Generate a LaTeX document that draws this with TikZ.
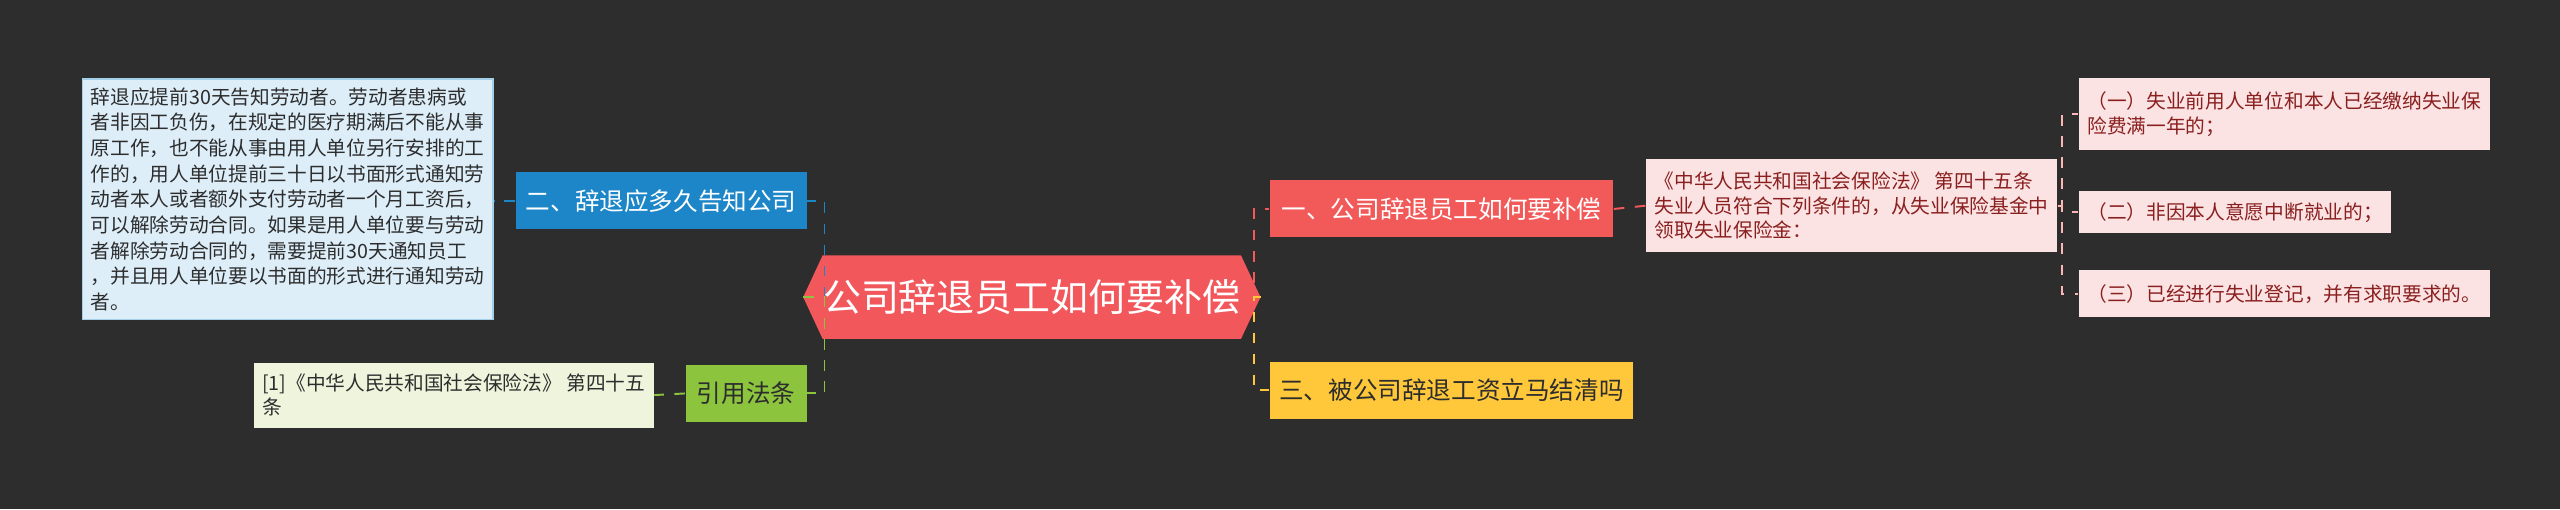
\documentclass[tikz,border=0pt]{standalone}
\usepackage{fontspec}
\setmainfont{Noto Sans CJK SC}
\usetikzlibrary{shapes.symbols}
\definecolor{bgc}{HTML}{2D2D2D}
\definecolor{rootc}{HTML}{F2575B}
\definecolor{redc}{HTML}{F25A5A}
\definecolor{bluec}{HTML}{1C86C8}
\definecolor{greenc}{HTML}{8CC43E}
\definecolor{yellowc}{HTML}{FFC83A}
\definecolor{pinkc}{HTML}{FCE3E3}
\definecolor{lbluec}{HTML}{DDEEF9}
\definecolor{lgreenc}{HTML}{EFF5DD}
\definecolor{darkred}{HTML}{8A1F1F}
\tikzset{
  topic/.style={inner sep=0pt, minimum height=0.57cm, font=\fontsize{7}{8}\selectfont},
  leaf/.style={inner sep=2.4pt, align=left, anchor=west, font=\fontsize{5.6}{7}\selectfont},
  link/.style={dashed, line width=0.55pt}
}
\begin{document}
\begin{tikzpicture}[x=0.01633cm, y=-0.01633cm]
\fill[bgc] (0,0) rectangle (1568,312);
% 中心主题
\node[signal, signal to=east and west, signal pointer angle=130, fill=rootc, draw=rootc,
  text=white, minimum width=4cm, minimum height=0.82cm, inner sep=0pt,
  font=\fontsize{10.8}{12}\selectfont] (root) at (632,182) {公司辞退员工如何要补偿};
% 分支
\node[topic, fill=redc, text=white, minimum width=3.43cm] (b1) at (883,128) {一、公司辞退员工如何要补偿};
\node[topic, fill=yellowc, text=bgc, minimum width=3.63cm] (b3) at (889,239) {三、被公司辞退工资立马结清吗};
\node[topic, fill=bluec, text=white, minimum width=2.91cm] (b2) at (405,123) {二、辞退应多久告知公司};
\node[topic, fill=greenc, text=bgc, minimum width=1.21cm] (b4) at (457,241) {引用法条};
% 叶子
\node[leaf, fill=lbluec, draw=bluec!40, text=bgc, minimum width=4cm, minimum height=2.4cm,
  font=\fontsize{5.6}{7.3}\selectfont] (l1) at (50,122)
  {辞退应提前30天告知劳动者。劳动者患病或\\者非因工负伤，在规定的医疗期满后不能从事\\原工作，也不能从事由用人单位另行安排的工\\作的，用人单位提前三十日以书面形式通知劳\\动者本人或者额外支付劳动者一个月工资后，\\可以解除劳动合同。如果是用人单位要与劳动\\者解除劳动合同的，需要提前30天通知员工\\，并且用人单位要以书面的形式进行通知劳动\\者。};
\node[leaf, fill=lgreenc, text=bgc, minimum width=3.97cm, minimum height=0.65cm] (l2) at (155,242)
  {[1]《中华人民共和国社会保险法》 第四十五\\条};
\node[leaf, fill=pinkc, text=darkred, minimum width=3.98cm, minimum height=0.93cm] (p) at (1008,126)
  {《中华人民共和国社会保险法》 第四十五条\\失业人员符合下列条件的，从失业保险基金中\\领取失业保险金：};
\node[leaf, fill=pinkc, text=darkred, minimum width=4.03cm, minimum height=0.72cm] (r1) at (1273,70)
  {（一）失业前用人单位和本人已经缴纳失业保\\险费满一年的；};
\node[leaf, fill=pinkc, text=darkred, minimum width=3.09cm, minimum height=0.42cm] (r2) at (1273,130)
  {（二）非因本人意愿中断就业的；};
\node[leaf, fill=pinkc, text=darkred, minimum width=4.03cm, minimum height=0.47cm] (r3) at (1273,180)
  {（三）已经进行失业登记，并有求职要求的。};
% 连线
\draw[link, redc] (root.east) -- (768,182) |- (b1.west);
\draw[link, yellowc] (root.east) -- (768,182) |- (b3.west);
\draw[link, bluec] (root.west) -- (505,182) |- (b2.east);
\draw[link, greenc] (root.west) -- (505,182) |- (b4.east);
\draw[link, redc] (b1.east) -- (p.west);
\draw[link, bluec] (b2.west) -- (l1.east |- b2.west);
\draw[link, greenc] (b4.west) -- (l2.east);
\foreach \r in {r1,r2,r3}
  \draw[link, pinkc!80!red] (p.east) -- (1263,126) |- (\r.west);
\end{tikzpicture}
\end{document}
